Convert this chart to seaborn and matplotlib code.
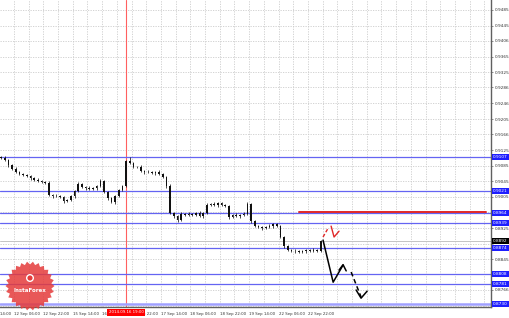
import numpy as np
import pandas as pd
import matplotlib
matplotlib.use("Agg")
import matplotlib.pyplot as plt
import matplotlib.transforms as mtrans
from matplotlib.patches import Polygon, Circle
import seaborn as sns

# ---------------- data ----------------
closes = [0.9105, 0.9100, 0.9087, 0.9077, 0.9069, 0.9064, 0.9061, 0.9059, 0.9054, 0.9048,
          0.9046, 0.9043, 0.9041, 0.9010, 0.9007, 0.9007, 0.9005, 0.8995, 0.8997, 0.9007,
          0.9020, 0.9038, 0.9030, 0.9028, 0.9025, 0.9028, 0.9033, 0.9046, 0.9018, 0.9002,
          0.8992, 0.9007, 0.9023, 0.9033, 0.9097, 0.9092, 0.9082, 0.9082, 0.9072, 0.9069,
          0.9069, 0.9066, 0.9069, 0.9064, 0.9056, 0.9033, 0.8964, 0.8956, 0.8946, 0.8961,
          0.8959, 0.8961, 0.8959, 0.8964, 0.8956, 0.8964, 0.8984, 0.8987, 0.8984, 0.8989,
          0.8984, 0.8982, 0.8953, 0.8959, 0.8956, 0.8959, 0.8961, 0.8987, 0.8943, 0.8930,
          0.8928, 0.8925, 0.8928, 0.8930, 0.8935, 0.8930, 0.8902, 0.8879, 0.8869, 0.8866,
          0.8866, 0.8864, 0.8866, 0.8869, 0.8866, 0.8869, 0.8866, 0.8892]
first_open = 0.9108
hi_ext = [3, 4, 2, 3, 5, 2, 3, 4, 2, 3,
          5, 3, 2, 4, 3, 5, 2, 3, 2, 4,
          3, 6, 2, 3, 4, 3, 2, 5, 3, 2,
          4, 3, 2, 3, 4, 10, 3, 2, 4, 3,
          5, 2, 3, 4, 2, 3, 4, 3, 2, 5,
          3, 4, 2, 3, 4, 2, 5, 3, 4, 2,
          3, 4, 2, 3, 5, 3, 4, 5, 3, 2,
          4, 3, 2, 5, 3, 2, 4, 2, 3, 2,
          4, 3, 2, 3, 2, 4, 3, 3]
lo_ext = [2, 3, 4, 2, 3, 4, 2, 3, 5, 2,
          3, 2, 4, 3, 4, 2, 3, 6, 3, 2,
          4, 3, 2, 5, 3, 2, 4, 3, 2, 4,
          3, 5, 2, 3, 2, 3, 4, 2, 3, 5,
          2, 3, 4, 2, 3, 4, 3, 5, 5, 2,
          4, 3, 2, 4, 3, 5, 2, 3, 2, 4,
          3, 2, 4, 3, 2, 4, 3, 2, 5, 3,
          2, 4, 3, 2, 4, 3, 2, 5, 3, 2,
          4, 3, 2, 4, 3, 2, 3, 2]
bar_hours = 2  # each candle spans two hours

level_prices = [0.9107, 0.9021, 0.8964, 0.8939, 0.8874, 0.8808, 0.8781, 0.8730]
level_labels = ["0.9107", "0.9021", "0.8964", "0.8939", "0.8874", "0.8808", "0.8781", "0.8730"]
red_level = 0.8966
red_span = [162, 264]
bid_price = 0.8892
bid_label = "0.8892"

y_ticks = [0.9485, 0.9445, 0.9406, 0.9365, 0.9325, 0.9286, 0.9246, 0.9205, 0.9166, 0.9125,
           0.9085, 0.9045, 0.9005, 0.8965, 0.8925, 0.8885, 0.8845, 0.8806, 0.8766, 0.8726]
y_tick_labels = ["0.9485", "0.9445", "0.9406", "0.9365", "0.9325", "0.9286", "0.9246", "0.9205",
                 "0.9166", "0.9125", "0.9085", "0.9045", "0.9005", "", "0.8925", "",
                 "0.8845", "", "0.8766", ""]
first_time_tick = -9
first_time_label = "11 Sep 14:00"
time_ticks = [7, 23, 39, 55, 71, 87, 103, 119, 135, 151, 167]
time_labels = ["12 Sep 06:00", "12 Sep 22:00", "15 Sep 14:00", "16 Sep 06:00",
               "16 Sep 22:00", "17 Sep 14:00", "18 Sep 06:00", "18 Sep 22:00", "19 Sep 14:00",
               "22 Sep 06:00", "22 Sep 22:00"]
cross_hour = 68
cross_label = "2014.09.16 19:00"

# forecast arrows (hour, price)
blk_solid_h = [175.2, 180.7, 186.1]
blk_solid_p = [0.8894, 0.8786, 0.8830]
blk_head_h = [183.9, 186.1, 187.8]
blk_head_p = [0.8817, 0.8831, 0.8815]
blk_dash_h = [190.5, 195.9]
blk_dash_p = [0.8812, 0.8748]
blk_dhead_h = [193.2, 195.9, 199.2]
blk_dhead_p = [0.8766, 0.8745, 0.8763]
red_dash_h = [175.2, 178.0]
red_dash_p = [0.8902, 0.8925]
red_solid_h = [179.6, 181.2, 183.9]
red_solid_p = [0.8930, 0.8902, 0.8917]

# ---------------- figure ----------------
sns.set_theme(style="white")
plt.rcParams["font.family"] = ["DejaVu Sans"]
W, H = 510, 318
fig = plt.figure(figsize=(W / 100, H / 100), dpi=100)
fig.patch.set_facecolor("white")
ax_w, ax_h = 491, 307
ax = fig.add_axes([0, 1 - ax_h / H, ax_w / W, ax_h / H])
ax.set_facecolor("white")

px_per_hour = 1.8375
XLIM = (-0.6, ax_w / px_per_hour - 0.6)
YLIM = (0.87223, 0.951068)

# grid
grid_pos = np.arange(-1, 270, 8)
ax.grid(False)
for g in grid_pos:
    ax.axvline(g, color="#cccccc", lw=0.6, ls=(0, (1.5, 1.5)), zorder=0)
for t in y_ticks:
    ax.axhline(t, color="#cccccc", lw=0.6, ls=(0, (1.5, 1.5)), zorder=0)

# levels
for lp in level_prices:
    lw = 1.8 if lp == level_prices[-1] else 0.9
    col = "#a0a0ff" if lp == level_prices[-1] else "#6464f2"
    ax.axhline(lp, color=col, lw=lw, zorder=2)
ax.axhline(bid_price, color="#c4c4c4", lw=0.7, zorder=1)
ax.plot(red_span, [red_level, red_level], color="#e02828", lw=1.4, zorder=3)

# crosshair
ax.axvline(cross_hour, color="#ff6060", lw=0.8, zorder=1)

# candles
df = pd.DataFrame({"close": closes})
df["hour"] = np.arange(len(df)) * bar_hours
df["open"] = [first_open] + closes[:-1]
df["high"] = df[["open", "close"]].max(axis=1) + np.array(hi_ext) * 0.0001
df["low"] = df[["open", "close"]].min(axis=1) - np.array(lo_ext) * 0.0001
ax.vlines(df["hour"], df["low"], df["high"], color="black", lw=0.5, zorder=4)
body = (df["close"] - df["open"]).abs().clip(lower=0.00008)
ax.bar(df["hour"], body, bottom=df[["open", "close"]].min(axis=1), width=0.9,
       color="#111111", edgecolor="none", linewidth=0, zorder=5)

# forecast arrows via seaborn
def sline(hh, pp, color, ls="-", lw=1.0):
    sns.lineplot(x=hh, y=pp, sort=False, estimator=None, ax=ax, color=color,
                 lw=lw, linestyle=ls, zorder=6)

sline(blk_solid_h, blk_solid_p, "black", lw=1.1)
sline(blk_head_h, blk_head_p, "black", lw=1.1)
sline(blk_dash_h, blk_dash_p, "black", ls=(0, (3, 2)), lw=1.1)
sline(blk_dhead_h, blk_dhead_p, "black", lw=1.1)
sline(red_dash_h, red_dash_p, "#e02828", ls=(0, (2.5, 1.5)), lw=1.0)
sline(red_solid_h, red_solid_p, "#e02828", lw=1.0)

# spines
for s in ["top", "left"]:
    ax.spines[s].set_visible(False)
for s in ["right", "bottom"]:
    ax.spines[s].set_color("#606060")
    ax.spines[s].set_linewidth(1.0)

# ticks
ax.yaxis.tick_right()
ax.set_yticks(y_ticks)
ax.set_yticklabels(y_tick_labels)
ax.tick_params(axis="y", which="major", length=1.5, width=0.5, pad=1.2,
               labelsize=3.1, labelcolor="#333333", color="#606060")
ax.set_xticks(time_ticks)
ax.set_xticklabels(time_labels)
for lab in ax.get_xticklabels():
    lab.set_horizontalalignment("left")
ax.tick_params(axis="x", which="major", length=2, width=0.5, pad=1.5,
               labelsize=2.75, labelcolor="#333333", color="#606060")
ax.set_xlabel("")
ax.set_ylabel("")

# partially visible first time label (runs off the left edge)
trans_x = mtrans.blended_transform_factory(ax.transData, ax.transAxes)
ax.text(first_time_tick, -0.0155, first_time_label, transform=trans_x, ha="left", va="top",
        fontsize=2.75, color="#333333", clip_on=False)

# level labels on the price scale
trans_y = mtrans.blended_transform_factory(ax.transAxes, ax.transData)
for lp, lt in zip(level_prices, level_labels):
    ax.text(1.004, lp, lt, transform=trans_y, ha="left", va="center", fontsize=3.1,
            color="white", zorder=10, clip_on=False,
            bbox=dict(boxstyle="square,pad=0.25", fc="#1e1eff", ec="none"))
ax.text(1.004, bid_price, bid_label, transform=trans_y, ha="left", va="center", fontsize=3.1,
        color="white", zorder=10, clip_on=False,
        bbox=dict(boxstyle="square,pad=0.25", fc="black", ec="none"))

# crosshair time label
ax.text(cross_hour, -0.011, cross_label, transform=trans_x, ha="center", va="top",
        fontsize=2.75, color="white", zorder=10, clip_on=False,
        bbox=dict(boxstyle="square,pad=0.4", fc="#ff0000", ec="none"))

ax.set_xlim(*XLIM)
ax.set_ylim(*YLIM)

# InstaForex watermark (display pixels)
idt = mtrans.IdentityTransform()
cx, cy = 30, H - 286
n = 26
ang = np.linspace(0, 2 * np.pi, 2 * n, endpoint=False)
rad = np.where(np.arange(2 * n) % 2 == 0, 24.5, 21.5)
star = Polygon(np.column_stack([cx + rad * np.cos(ang), cy + rad * np.sin(ang)]),
               closed=True, fc="#e43b3b", ec="none", alpha=0.85, transform=idt, zorder=20)
fig.patches.append(star)
fig.patches.append(Circle((cx, cy + 8), 4.0, fc="white", ec="none", transform=idt, zorder=21))
fig.patches.append(Circle((cx, cy + 8), 2.6, fc="#e43b3b", ec="none", transform=idt, zorder=22))
fig.text(cx / W, (cy - 4) / H, "InstaForex", ha="center", va="center", fontsize=4.0,
         color="white", fontweight="bold", zorder=23)

fig.savefig("out.png", dpi=100, facecolor="white")
